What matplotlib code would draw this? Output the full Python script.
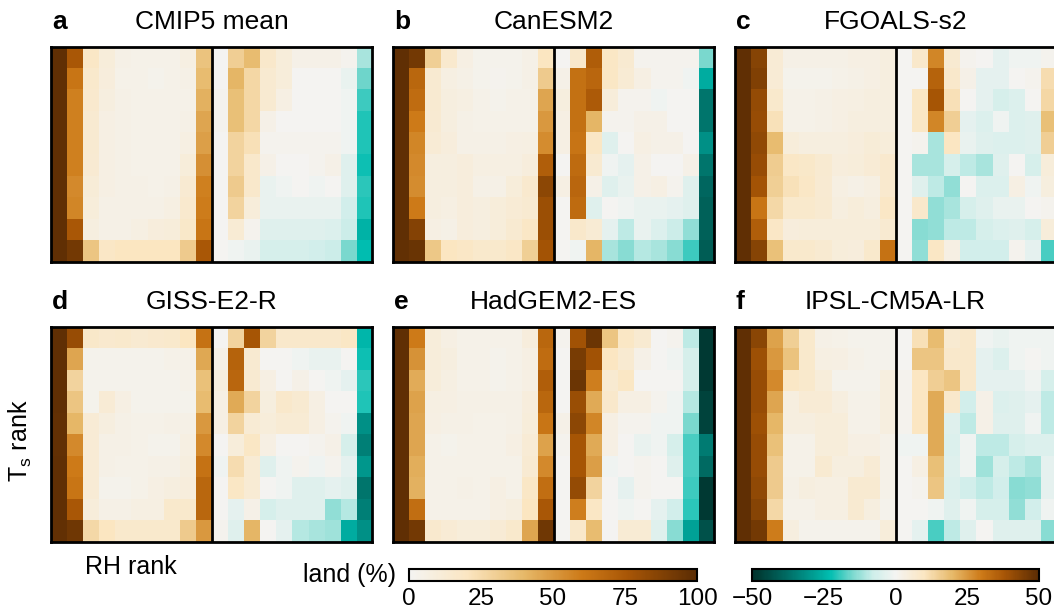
import numpy as np
import matplotlib
matplotlib.use("Agg")
import matplotlib.pyplot as plt
from matplotlib.colors import LinearSegmentedColormap

plt.rcParams['font.family'] = ['Liberation Sans', 'DejaVu Sans']

titles = ["CMIP5 mean", "CanESM2", "FGOALS-s2", "GISS-E2-R", "HadGEM2-ES", "IPSL-CM5A-LR"]
letters = ["a", "b", "c", "d", "e", "f"]

# land fraction (%) per (Ts rank row, RH rank column), rows listed top to bottom
cmip5_land = [
    [98, 75, 18, 10, 5, 4, 4, 4, 7, 35],
    [98, 62, 16, 9, 4, 4, 3, 4, 5, 38],
    [98, 58, 15, 8, 5, 4, 4, 4, 4, 42],
    [98, 58, 14, 6, 5, 4, 4, 4, 5, 46],
    [98, 58, 14, 6, 5, 4, 4, 4, 7, 48],
    [98, 58, 13, 6, 5, 4, 4, 4, 10, 53],
    [98, 55, 11, 6, 5, 5, 4, 5, 13, 58],
    [98, 56, 10, 5, 5, 5, 5, 7, 15, 59],
    [98, 75, 8, 5, 5, 7, 9, 10, 17, 62],
    [98, 92, 34, 18, 20, 20, 20, 20, 32, 75],
]
cmip5_diff = [
    [0, 15, 19, 8, 5, 2, 2, 2, 1, -11],
    [0, 20, 13, 7, 5, 0, 0, 0, -2, -16],
    [1, 18, 13, 7, 3, 0, 0, 0, -1, -19],
    [1, 18, 13, 2, 0, 0, 0, 0, -1, -21],
    [0, 14, 11, 1, 1, 1, 1, 1, -1, -21],
    [0, 14, 8, 2, 0, 0, 1, 2, -4, -22],
    [0, 16, 8, -2, -1, 0, -1, 0, -4, -20],
    [0, 14, 5, -2, -2, -2, -2, -2, -7, -21],
    [0, 6, 1, -4, -4, -4, -4, -5, -8, -25],
    [0, -1, -2, -6, -6, -6, -7, -8, -15, -23],
]
canesm_land = [
    [98, 92, 30, 15, 6, 3, 3, 3, 5, 20],
    [98, 68, 14, 7, 5, 3, 2, 3, 5, 32],
    [98, 66, 14, 8, 7, 4, 3, 4, 4, 46],
    [98, 60, 13, 8, 5, 4, 4, 4, 4, 50],
    [98, 56, 12, 9, 5, 5, 5, 6, 7, 54],
    [98, 55, 8, 8, 9, 7, 7, 7, 9, 72],
    [98, 54, 8, 8, 9, 5, 5, 10, 15, 84],
    [98, 60, 8, 7, 9, 8, 10, 12, 14, 80],
    [98, 87, 6, 5, 9, 8, 10, 14, 18, 80],
    [97, 95, 33, 20, 18, 16, 16, 18, 30, 77],
]
canesm_diff = [
    [0, 8, 36, 9, 7, 1, 1, 1, 1, -15],
    [2, 32, 34, 9, 6, 3, 1, 1, -1, -26],
    [4, 32, 37, 5, 1, 1, -1, 0, 0, -36],
    [3, 32, 20, 1, 1, 2, 2, 0, 0, -36],
    [3, 31, 9, -4, 0, 3, 2, 2, 0, -31],
    [0, 33, 7, -1, -3, 2, 0, 0, 2, -36],
    [3, 34, 2, -4, -2, 2, 3, 1, -4, -39],
    [0, 33, -4, 0, -1, -2, -2, -3, -4, -40],
    [0, 8, 6, -3, -9, -2, -5, -8, -13, -40],
    [0, -1, 20, -11, -14, -10, -11, -14, -19, -41],
]
fgoals_land = [
    [98, 86, 12, 5, 5, 5, 5, 6, 6, 8],
    [98, 88, 12, 3, 3, 3, 4, 5, 6, 8],
    [98, 82, 16, 4, 4, 5, 6, 7, 8, 8],
    [98, 81, 22, 4, 4, 5, 6, 8, 8, 8],
    [98, 83, 38, 10, 8, 8, 8, 9, 11, 10],
    [98, 81, 31, 18, 17, 14, 9, 10, 12, 15],
    [98, 77, 30, 22, 18, 13, 7, 5, 7, 15],
    [98, 62, 26, 16, 16, 14, 8, 10, 8, 18],
    [98, 72, 18, 9, 10, 10, 10, 10, 10, 14],
    [98, 86, 36, 16, 16, 14, 10, 9, 16, 63],
]
fgoals_diff = [
    [0, 8, 28, 7, 1, 0, -3, -1, -1, 1],
    [0, 0, 35, 8, 2, -3, -3, 0, 1, 12],
    [0, 9, 38, 11, 0, -3, -6, -5, 0, 13],
    [0, 9, 28, 15, -3, -5, -1, -5, -4, 18],
    [0, 1, -11, 10, -2, -4, -5, -5, -4, 15],
    [0, -11, -11, -6, -9, -11, -4, 0, -6, 5],
    [0, -4, -9, -13, 0, -5, -5, 3, -1, 4],
    [0, 8, -13, -11, -6, -4, -2, -2, 0, 1],
    [0, -14, -13, -9, -9, -6, -5, -4, -6, 5],
    [0, -13, 9, 3, -7, -7, -7, 1, -3, -18],
]
giss_land = [
    [98, 81, 17, 15, 16, 14, 15, 16, 20, 63],
    [98, 46, 3, 3, 3, 3, 3, 4, 4, 45],
    [98, 28, 3, 3, 3, 3, 3, 3, 4, 36],
    [98, 34, 3, 12, 6, 3, 3, 3, 3, 38],
    [97, 40, 12, 8, 5, 4, 4, 5, 5, 50],
    [97, 55, 12, 5, 5, 4, 3, 3, 7, 55],
    [98, 60, 12, 5, 4, 4, 5, 5, 8, 63],
    [98, 62, 12, 3, 3, 4, 6, 8, 9, 68],
    [98, 75, 10, 5, 5, 7, 7, 16, 16, 68],
    [97, 93, 26, 20, 16, 16, 16, 16, 32, 50],
]
giss_diff = [
    [0, 14, 38, 14, 8, 8, 8, 8, 9, -24],
    [2, 35, 7, 0, 0, -1, -2, -2, 0, -22],
    [4, 34, 7, 3, 0, 2, 0, -1, -3, -20],
    [3, 22, 14, 4, 8, 7, 3, 0, 0, -21],
    [3, 14, 6, 5, 6, 6, 3, 1, -1, -31],
    [0, 5, 9, 3, 0, 0, 1, 2, -6, -34],
    [-1, 12, 6, -4, -1, 1, -1, 1, -3, -30],
    [0, 9, 6, 0, -1, -4, -4, -3, -4, -36],
    [0, -3, 2, -6, -4, -4, -4, -13, -10, -34],
    [1, -4, 20, 0, -3, -10, -11, -12, -26, -31],
]
hadgem_land = [
    [98, 60, 10, 6, 4, 4, 4, 4, 9, 68],
    [98, 52, 10, 8, 4, 4, 3, 4, 6, 66],
    [98, 44, 10, 7, 4, 4, 3, 4, 6, 72],
    [98, 47, 7, 6, 5, 5, 5, 5, 9, 68],
    [98, 46, 6, 5, 5, 4, 4, 5, 10, 62],
    [98, 46, 4, 3, 4, 4, 4, 6, 12, 47],
    [98, 43, 4, 4, 4, 4, 4, 4, 13, 55],
    [98, 42, 4, 4, 5, 4, 6, 4, 18, 65],
    [98, 65, 4, 4, 4, 4, 6, 8, 20, 75],
    [98, 92, 15, 12, 10, 10, 12, 16, 46, 93],
]
hadgem_diff = [
    [1, 39, 47, 17, 9, 7, 0, 1, -9, -48],
    [0, 45, 39, 10, 7, 2, 0, -1, -6, -48],
    [0, 47, 29, 7, 9, 0, 0, 0, -6, -48],
    [0, 40, 22, 8, 3, 3, 1, -1, -10, -46],
    [2, 42, 28, 3, 1, 1, -1, -1, -15, -46],
    [1, 38, 22, 3, 0, -2, -1, -6, -18, -35],
    [0, 38, 24, -1, 0, 1, 0, -4, -18, -38],
    [0, 41, 14, 0, -3, 1, 0, 0, -19, -48],
    [0, 29, 9, 0, -1, 0, -3, -7, -20, -48],
    [0, 8, 19, 0, 6, 6, -4, -14, -28, -43],
]
ipsl_land = [
    [98, 85, 47, 30, 16, 5, 4, 3, 3, 3],
    [98, 79, 50, 35, 16, 7, 6, 4, 3, 3],
    [98, 81, 55, 18, 16, 10, 3, 3, 3, 8],
    [98, 81, 46, 8, 12, 12, 8, 4, 4, 8],
    [98, 79, 40, 8, 8, 10, 10, 4, 4, 8],
    [98, 81, 36, 4, 4, 10, 10, 6, 6, 4],
    [98, 81, 32, 4, 4, 14, 8, 8, 12, 4],
    [98, 83, 32, 5, 8, 7, 7, 14, 14, 4],
    [98, 86, 26, 4, 4, 7, 7, 14, 8, 3],
    [98, 92, 59, 8, 3, 3, 3, 3, 3, 10],
]
ipsl_diff = [
    [0, 11, 19, 7, 8, -1, -2, -1, -1, -1],
    [0, 17, 17, 8, 8, -3, -5, -1, 0, -1],
    [1, 10, 15, 17, 8, -3, -3, -3, -1, -6],
    [1, 10, 22, 8, -7, 2, -5, -4, -3, -9],
    [1, 10, 22, -4, -9, 2, -4, -4, -1, -9],
    [-1, -1, 22, -5, -1, -9, -9, -6, -5, -5],
    [0, 3, 18, -4, -1, -12, -6, -9, -11, -3],
    [0, 1, 17, -5, -7, -9, -7, -14, -13, -3],
    [0, 0, -1, -4, -1, -6, -6, -13, -7, -1],
    [0, -3, -18, -9, -4, 0, -4, -4, -4, -14],
]

land_sets = [cmip5_land, canesm_land, fgoals_land, giss_land, hadgem_land, ipsl_land]
diff_sets = [cmip5_diff, canesm_diff, fgoals_diff, giss_diff, hadgem_diff, ipsl_diff]

land_ticks = [0, 25, 50, 75, 100]
diff_ticks = [-50, -25, 0, 25, 50]

# colour maps: teal - white - brown
nodes = [(0.0, "#00302a"), (0.12, "#006c64"), (0.27, "#00bdb0"), (0.35, "#7cd9cf"),
         (0.42, "#cdeeea"), (0.5, "#f4f4f2"), (0.6, "#fbe6c2"), (0.7, "#e6b868"),
         (0.8, "#cd7a18"), (0.88, "#a85606"), (1.0, "#5a2c04")]
div_cmap = LinearSegmentedColormap.from_list("tealbrown", nodes)
land_cmap = LinearSegmentedColormap.from_list(
    "landbrown", [((p - 0.5) * 2, c) for p, c in nodes if p >= 0.5])

W, H = 1054, 613
fig = plt.figure(figsize=(W / 100, H / 100), dpi=100)


def px_axes(x0, y0, w, h):
    return fig.add_axes([x0 / W, 1 - (y0 + h) / H, w / W, h / H])


col_x = [51, 393, 735]
row_y = [47, 327]
half_w, panel_h = 160.5, 215

for i in range(6):
    r, c = divmod(i, 3)
    x0, y0 = col_x[c], row_y[r]
    ax = px_axes(x0, y0, 2 * half_w, panel_h)
    ax.imshow(np.array(land_sets[i]), cmap=land_cmap, vmin=0, vmax=100,
              extent=(0, 10, 0, 10), aspect="auto", interpolation="nearest")
    ax.imshow(np.array(diff_sets[i]), cmap=div_cmap, vmin=-50, vmax=50,
              extent=(10, 20, 0, 10), aspect="auto", interpolation="nearest")
    ax.set_xlim(0, 20)
    ax.set_ylim(0, 10)
    ax.axvline(10, color="black", lw=2)
    ax.set_xticks([])
    ax.set_yticks([])
    for s in ax.spines.values():
        s.set_linewidth(2)
    fig.text((x0 + 1) / W, 1 - (y0 - 25) / H, letters[i], fontsize=19,
             fontweight="bold", ha="left", va="center")
    fig.text((x0 + half_w) / W, 1 - (y0 - 25) / H, titles[i], fontsize=19,
             ha="center", va="center")

fig.text(20 / W, 1 - 441 / H, r"T$_\mathregular{s}$ rank", fontsize=18,
         rotation=90, ha="center", va="center")
fig.text(131 / W, 1 - 567 / H, "RH rank", fontsize=18, ha="center", va="center")
fig.text(396 / W, 1 - 575 / H, "land (%)", fontsize=18, ha="right", va="center")

sm1 = plt.cm.ScalarMappable(cmap=land_cmap, norm=plt.Normalize(0, 100))
cax1 = px_axes(409, 569, 288, 12)
cb1 = fig.colorbar(sm1, cax=cax1, orientation="horizontal", ticks=land_ticks)
sm2 = plt.cm.ScalarMappable(cmap=div_cmap, norm=plt.Normalize(-50, 50))
cax2 = px_axes(752, 569, 287, 12)
cb2 = fig.colorbar(sm2, cax=cax2, orientation="horizontal", ticks=diff_ticks)
for cb in (cb1, cb2):
    cb.outline.set_linewidth(1.5)
    cb.ax.tick_params(length=0, labelsize=17.5, pad=5)
cb2.ax.set_xticklabels(["\u221250", "\u221225", "0", "25", "50"])

fig.savefig("out.png", dpi=100)
